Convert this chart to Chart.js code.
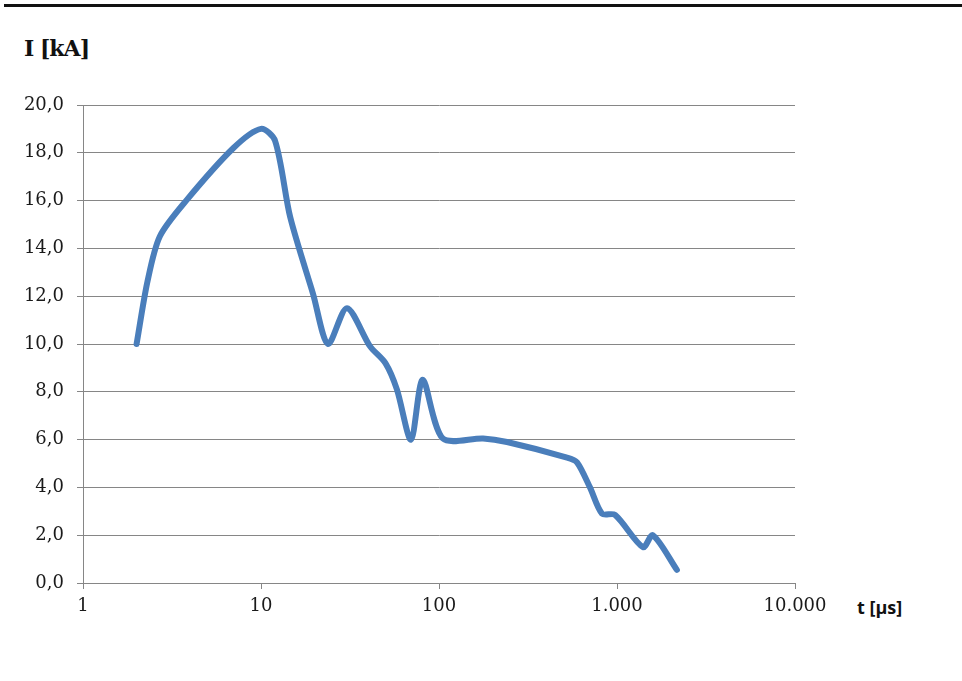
<!DOCTYPE html>
<html>
<head>
<meta charset="utf-8">
<script src="https://cdn.jsdelivr.net/npm/chart.js@4/dist/chart.umd.min.js"></script>
<style>
  html, body { margin: 0; padding: 0; background: #fff; }
  #wrap { position: relative; width: 962px; height: 681px; overflow: hidden; }
  #topline { position: absolute; left: 4px; right: 0; top: 4px; height: 3px; background: #111; }
  #ytitle { position: absolute; left: 24px; top: 35px; font: bold 22px "DejaVu Serif", serif; color: #111; letter-spacing: -1px; }
  #xtitle { position: absolute; left: 857px; top: 595px; font: bold 18px "Open Sans", sans-serif; color: #111; }
  canvas { position: absolute; left: 0; top: 0; }
</style>
</head>
<body>
<div id="wrap">
  <div id="topline"></div>
  <span id="ytitle">I [kA]</span>
  <span id="xtitle">t [µs]</span>
  <canvas id="chart" width="962" height="681"></canvas>
</div>
<script>
// time in µs, current in kA
const times = [2, 2.3, 2.7, 3.8, 7, 10, 12, 14.6, 19.6, 23.8, 30.4, 41, 50, 58, 69.6, 81, 105, 177, 241, 524, 596, 705, 824, 975, 1400, 1590, 2170];
const currents = [10.0, 12.6, 14.5, 16.0, 18.2, 19.0, 18.5, 15.3, 12.1, 10.0, 11.5, 9.9, 9.2, 8.1, 6.0, 8.5, 6.05, 6.05, 5.9, 5.25, 5.05, 4.0, 2.9, 2.85, 1.5, 2.0, 0.55];

const xTickValues = [1, 10, 100, 1000, 10000];
const xTickLabels = ['1', '10', '100', '1.000', '10.000'];
const yTickValues = [0, 2, 4, 6, 8, 10, 12, 14, 16, 18, 20];

const points = times.map((t, i) => ({ x: t, y: currents[i] }));

const ctx = document.getElementById('chart').getContext('2d');
new Chart(ctx, {
    type: 'line',
    data: {
        datasets: [{
            label: 'I',
            data: points,
            borderColor: '#4a7ebb',
            borderWidth: 6,
            borderCapStyle: 'round',
            borderJoinStyle: 'round',
            pointRadius: 0,
            tension: 0.28,
            fill: false
        }]
    },
    options: {
        responsive: false,
        animation: false,
        layout: {
            padding: { left: 0, top: 105, right: 167, bottom: 0 }
        },
        plugins: {
            legend: { display: false },
            tooltip: { enabled: false }
        },
        scales: {
            x: {
                type: 'logarithmic',
                min: 1,
                max: 10000,
                afterBuildTicks: scale => {
                    scale.ticks = xTickValues.map(v => ({ value: v }));
                },
                afterFit: scale => { scale.height = 98; },
                ticks: {
                    autoSkip: false,
                    maxRotation: 0,
                    padding: 7,
                    color: '#1a1a1a',
                    font: { family: 'DejaVu Serif', size: 18 },
                    callback: (value) => {
                        const idx = xTickValues.indexOf(value);
                        return idx >= 0 ? xTickLabels[idx] : '';
                    }
                },
                grid: {
                    drawOnChartArea: false,
                    color: '#868686',
                    tickLength: 6
                },
                border: { color: '#868686', width: 1 }
            },
            y: {
                min: 0,
                max: 20,
                afterBuildTicks: scale => {
                    scale.ticks = yTickValues.map(v => ({ value: v }));
                },
                afterFit: scale => { scale.width = 83; },
                ticks: {
                    padding: 13,
                    color: '#1a1a1a',
                    font: { family: 'DejaVu Serif', size: 18 },
                    callback: value => value.toFixed(1).replace('.', ',')
                },
                grid: {
                    color: '#868686',
                    lineWidth: 1,
                    tickLength: 6
                },
                border: { color: '#868686', width: 1 }
            }
        }
    }
});
</script>
</body>
</html>
